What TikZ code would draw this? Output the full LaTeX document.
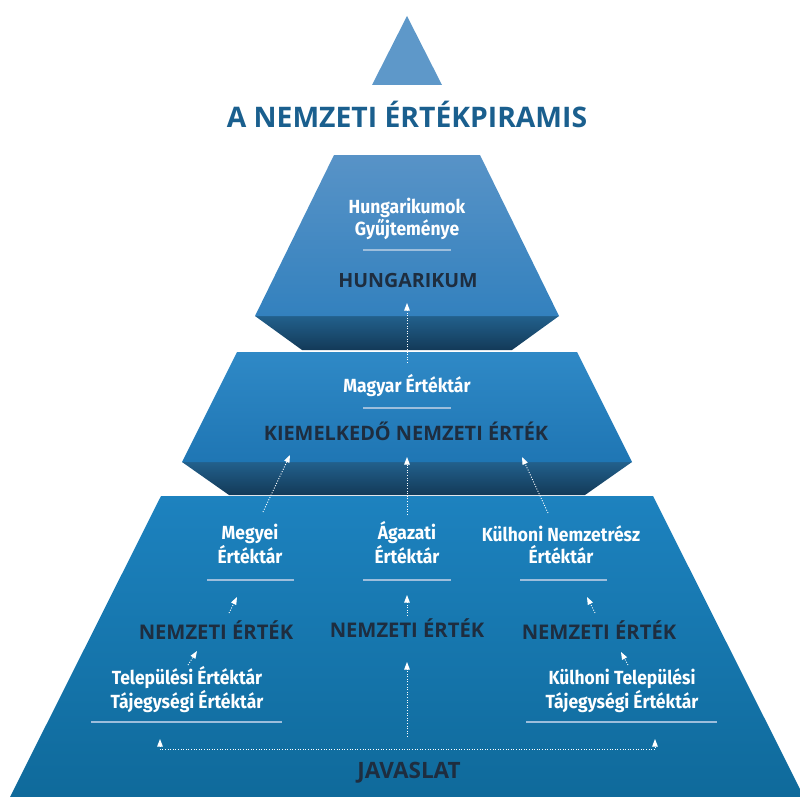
\documentclass[tikz,border=0pt]{standalone}
\usepackage{fontspec}
\setmainfont{Open Sans}
\newfontfamily\condfont[FakeStretch=0.92]{Fira Sans}
\usetikzlibrary{arrows.meta}

\definecolor{capblue}{HTML}{5E98C9}
\definecolor{titleblue}{HTML}{1A5F8E}
\definecolor{darktext}{HTML}{1E2D3F}
\definecolor{sepblue}{HTML}{9DBEDC}
\definecolor{bevtop}{HTML}{22608C}
\definecolor{bevbot}{HTML}{133A58}
\definecolor{tiertopa}{HTML}{5893C7}
\definecolor{tiertopb}{HTML}{3381BE}
\definecolor{tiermida}{HTML}{2F89C6}
\definecolor{tiermidb}{HTML}{1F76B4}
\definecolor{tierbota}{HTML}{1D82BF}
\definecolor{tierbotb}{HTML}{0F6A9B}

\tikzset{
  whitelbl/.style={anchor=base, inner sep=0pt, text=white, font=\condfont\bfseries\fontsize{19}{22}\selectfont, align=center},
  darklbl/.style={anchor=base, inner sep=0pt, text=darktext, font=\bfseries\fontsize{20.2}{24}\selectfont},
  sepline/.style={sepblue, line width=1.1pt},
  uparrow/.style={white, line width=0.9pt, dash pattern=on 1pt off 1.6pt, -{Triangle[width=5.5pt,length=7.5pt]}},
  bevel/.style={top color=bevtop, bottom color=bevbot}
}

\begin{document}
\begin{tikzpicture}[x=1pt, y=-1pt]
  \useasboundingbox (0,0) rectangle (800,797);
  \clip (0,0) rectangle (800,797);

  % pyramid cap and tiers
  \fill[capblue] (372,85) -- (407,16) -- (442,85) -- cycle;
  \shade[top color=tierbota, bottom color=tierbotb] (161,496) -- (653,496) -- (804,797) -- (10,797) -- cycle;
  \shade[bevel] (182,462) -- (632,462) -- (585,495) -- (229,495) -- cycle;
  \shade[top color=tiermida, bottom color=tiermidb] (237,352) -- (577,352) -- (632,462) -- (182,462) -- cycle;
  \shade[bevel] (255,316) -- (559,316) -- (512,350) -- (302,350) -- cycle;
  \shade[top color=tiertopa, bottom color=tiertopb] (334,155) -- (480,155) -- (559,316) -- (255,316) -- cycle;

  % title
  \node[anchor=base, inner sep=0pt, text=titleblue, font=\bfseries\fontsize{28.3}{34}\selectfont] (title) at (407,128) {A NEMZETI ÉRTÉKPIRAMIS};

  % top tier
  \node[whitelbl] (gyujt) at (407,235) {Hungarikumok\\Gyűjteménye};
  \node[darklbl, font=\bfseries\fontsize{19.6}{24}\selectfont] (hung) at (408,287) {HUNGARIKUM};
  \draw[sepline] (363,250) -- (451,250);

  % middle tier
  \node[whitelbl] (magyar) at (407,392) {Magyar Értéktár};
  \node[darklbl, font=\bfseries\fontsize{19.9}{24}\selectfont] (kiem) at (406,440) {KIEMELKEDŐ NEMZETI ÉRTÉK};
  \draw[sepline] (363,408) -- (451,408);

  % bottom tier
  \node[whitelbl] (megyei) at (250,563) {Megyei\\Értéktár};
  \node[whitelbl] (agazati) at (407,563) {Ágazati\\Értéktár};
  \node[whitelbl] (kulnemz) at (561,563) {Külhoni Nemzetrész\\Értéktár};
  \draw[sepline] (207,580) -- (294,580);
  \draw[sepline] (363,580) -- (451,580);
  \draw[sepline] (520,580) -- (607,580);

  \node[darklbl] (nemzl) at (216,639) {NEMZETI ÉRTÉK};
  \node[darklbl] (nemzm) at (407,637) {NEMZETI ÉRTÉK};
  \node[darklbl] (nemzr) at (599,639) {NEMZETI ÉRTÉK};

  \node[whitelbl] (telep) at (187,708) {Települési Értéktár\\Tájegységi Értéktár};
  \node[whitelbl] (kultel) at (622,708) {Külhoni Települési\\Tájegységi Értéktár};
  \draw[sepline] (91,722) -- (282,722);
  \draw[sepline] (526,722) -- (717,722);

  \node[darklbl, font=\bfseries\fontsize{22.5}{26}\selectfont] (javas) at (409,778) {JAVASLAT};

  % arrow ends
  \coordinate (hungin) at (407,303);
  \coordinate (hungout) at (407,363);
  \coordinate (kieml) at (290,455);
  \coordinate (kiemm) at (407,457);
  \coordinate (kiemr) at (522,457);
  \coordinate (megyout) at (263,512);
  \coordinate (agout) at (407,515);
  \coordinate (kulout) at (548,513);
  \coordinate (megyin) at (237,597);
  \coordinate (agin) at (407,595);
  \coordinate (kulin) at (587,597);
  \coordinate (nemzlout) at (229,613);
  \coordinate (nemzmout) at (407,616);
  \coordinate (nemzrout) at (595,613);
  \coordinate (nemzlin) at (197,651);
  \coordinate (nemzmin) at (407,662);
  \coordinate (nemzrin) at (621,652);
  \coordinate (telout) at (188,665);
  \coordinate (javmid) at (407,737);
  \coordinate (kulteout) at (628,665);
  \coordinate (javl) at (160,739);
  \coordinate (javlc) at (160,749);
  \coordinate (javrc) at (655,749);
  \coordinate (javr) at (655,739);

  % arrows
  \draw[uparrow] (hungout) -- (hungin);
  \draw[uparrow] (megyout) -- (kieml);
  \draw[uparrow] (agout) -- (kiemm);
  \draw[uparrow] (kulout) -- (kiemr);
  \draw[uparrow] (nemzlout) -- (megyin);
  \draw[uparrow] (nemzmout) -- (agin);
  \draw[uparrow] (nemzrout) -- (kulin);
  \draw[uparrow] (telout) -- (nemzlin);
  \draw[uparrow] (javmid) -- (nemzmin);
  \draw[uparrow] (kulteout) -- (nemzrin);
  \draw[uparrow, {Triangle[width=5.5pt,length=7.5pt]}-{Triangle[width=5.5pt,length=7.5pt]}] (javl) -- (javlc) -- (javrc) -- (javr);
\end{tikzpicture}
\end{document}
